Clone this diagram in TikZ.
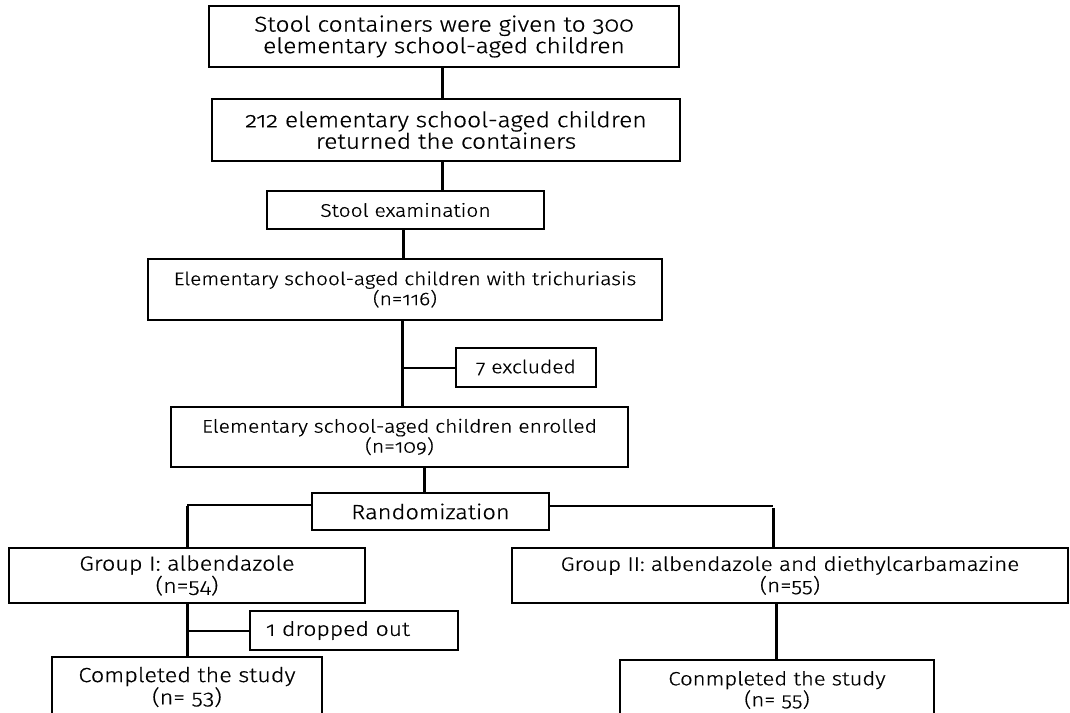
\documentclass[tikz,border=0pt]{standalone}
\usepackage{fontspec}
\setmainfont[Numbers=OldStyle,FakeStretch=1.15,FakeBold=0.6,UprightFont=* Light]{Fira Sans}
\newcommand{\fsz}[1]{\fontsize{#1}{20}\selectfont}
\begin{document}
\begin{tikzpicture}[x=1pt,y=-1pt,
  box/.style={draw, line width=1.2pt, align=center, inner sep=0pt, font=\fsz{20}},
  mainline/.style={line width=3pt},
  sideline/.style={line width=2pt}]
\useasboundingbox (0,0) rectangle (1070,712);
\node[box, font=\fsz{21.4}, minimum width=470, minimum height=61] (b1) at (444,36.5) {Stool containers were given to 300\\elementary school-aged children};
\node[box, font=\fsz{21.4}, minimum width=468, minimum height=62] (b2) at (446,130) {212 elementary school-aged children\\returned the containers};
\node[box, font=\fsz{18.3}, minimum width=277, minimum height=38] (b3) at (405.5,210) {Stool examination};
\node[box, font=\fsz{18.2}, minimum width=514, minimum height=61] (b4) at (405,289.5) {Elementary school-aged children with trichuriasis\\(n=116)};
\node[box, font=\fsz{18.3}, minimum width=140, minimum height=39] (ex) at (526,367.5) {7 excluded};
\node[box, font=\fsz{18.4}, minimum width=457, minimum height=60] (b5) at (399.5,437) {Elementary school-aged children enrolled\\(n=109)};
\node[box, font=\fsz{20.6}, minimum width=237, minimum height=37] (rnd) at (430.5,511.5) {Randomization};
\node[box, font=\fsz{20.4}, minimum width=356, minimum height=55] (g1) at (187,575.5) {Group I: albendazole\\(n=54)};
\node[box, minimum width=208, minimum height=39, text width=200, align=left] (drop) at (354,630.5) {\hspace*{12pt}1 dropped out};
\node[box, font=\fsz{20.4}, minimum width=270, minimum height=60] (c1) at (187,687) {Completed the study\\(n= 53)};
\node[box, font=\fsz{19.5}, minimum width=556, minimum height=55] (g2) at (790,575.5) {Group II: albendazole and diethylcarbamazine\\(n=55)};
\node[box, font=\fsz{19.2}, minimum width=314, minimum height=60] (c2) at (777,690) {Conmpleted the study\\(n= 55)};
% connectors
\draw[mainline] ([xshift=-2]b1.south) -- ([xshift=-2]b1.south |- b2.north);
\draw[mainline] ([xshift=-4]b2.south) -- ([xshift=-4]b2.south |- b3.north);
\draw[mainline] ([xshift=-2]b3.south) -- ([xshift=-2]b3.south |- b4.north);
\coordinate (j1) at ([xshift=-3]b4.south |- ex.west);
\draw[mainline] ([xshift=-3]b4.south) -- ([xshift=-3]b4.south |- b5.north);
\draw[sideline] (j1) -- (ex.west);
\draw[mainline] ([xshift=24.5]b5.south) -- ([xshift=24.5]b5.south |- rnd.north);
\coordinate (rl) at ([yshift=6.5]rnd.west);
\coordinate (rr) at ([yshift=5.5]rnd.east);
\draw[sideline] (rl) -- (rl -| g1.north) coordinate (gl);
\draw[mainline] ([yshift=-1]gl) -- (g1.north);
\draw[sideline] (rr) -- ([xshift=-17]rr -| g2.north) coordinate (gr);
\draw[mainline] ([yshift=-2]gr) -- (gr |- g2.north);
\coordinate (j2) at (g1.south |- drop.west);
\draw[mainline] (g1.south) -- (c1.north);
\draw[sideline] (j2) -- (drop.west);
\draw[mainline] ([xshift=-14]g2.south) -- ([xshift=-14]g2.south |- c2.north);
\end{tikzpicture}
\end{document}
